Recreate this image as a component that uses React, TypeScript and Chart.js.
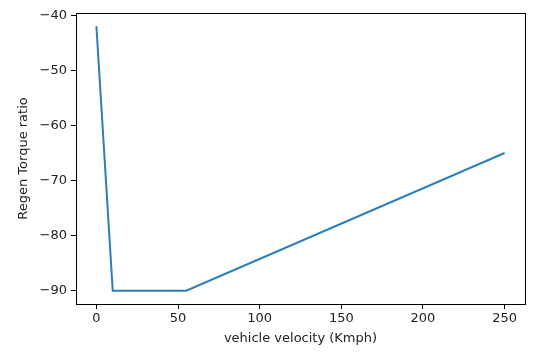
import React, { useEffect, useRef } from "react";
import { Chart, registerables } from "chart.js";

Chart.register(...registerables);

const velocity = [0, 10, 55, 250];
const torqueRatio = [-42, -90, -90, -65];
const xTicks = [0, 50, 100, 150, 200, 250];
const yTicks = [-90, -80, -70, -60, -50, -40];
const xLabel = "vehicle velocity (Kmph)";
const yLabel = "Regen Torque ratio";

const fmt = (v: number) => (v < 0 ? "\u2212" + Math.abs(v) : String(v));

const boxPlugin = {
  id: "boxPlugin",
  afterDraw(chart: any) {
    const { ctx, chartArea } = chart;
    ctx.save();
    ctx.strokeStyle = "#000";
    ctx.lineWidth = 1;
    ctx.strokeRect(
      Math.round(chartArea.left) + 0.5,
      Math.round(chartArea.top) + 0.5,
      Math.round(chartArea.right - chartArea.left),
      Math.round(chartArea.bottom - chartArea.top)
    );
    ctx.restore();
  },
};

export default function App() {
  const ref = useRef<HTMLCanvasElement>(null);
  useEffect(() => {
    document.body.style.margin = "0";
    const font = { family: "DejaVu Sans", size: 13 };
    const chart = new Chart(ref.current!, {
      type: "line",
      data: {
        datasets: [
          {
            data: velocity.map((x, i) => ({ x, y: torqueRatio[i] })),
            borderColor: "#2a7fba",
            borderWidth: 2,
            pointRadius: 0,
            fill: false,
            tension: 0,
          },
        ],
      },
      options: {
        responsive: false,
        animation: false,
        plugins: { legend: { display: false }, tooltip: { enabled: false } },
        layout: { padding: { left: 0, top: 13, right: 23, bottom: 0 } },
        scales: {
          x: {
            type: "linear",
            min: -12.5,
            max: 262.5,
            afterBuildTicks: (s: any) => {
              s.ticks = xTicks.map((v) => ({ value: v }));
            },
            afterFit: (s: any) => {
              s.height = 51;
            },
            grid: { drawOnChartArea: false, drawTicks: true, tickLength: 5, color: "#000" },
            border: { display: false },
            ticks: { font, color: "#222", padding: 2, maxRotation: 0, callback: (v: any) => fmt(Number(v)) },
            title: { display: true, text: xLabel, font, color: "#222", padding: { top: 0, bottom: 9 } },
          },
          y: {
            type: "linear",
            min: -92.4,
            max: -39.6,
            afterBuildTicks: (s: any) => {
              s.ticks = yTicks.map((v) => ({ value: v }));
            },
            afterFit: (s: any) => {
              s.width = 76;
            },
            grid: { drawOnChartArea: false, drawTicks: true, tickLength: 5, color: "#000" },
            border: { display: false },
            ticks: { font, color: "#222", padding: 4, callback: (v: any) => fmt(Number(v)) },
            title: { display: true, text: yLabel, font, color: "#222", padding: { top: 16, bottom: 0 } },
          },
        },
      },
      plugins: [boxPlugin],
    });
    return () => chart.destroy();
  }, []);
  return (
    <div style={{ position: "absolute", left: 0, top: 0, width: 548, height: 355, background: "#fff" }}>
      <canvas ref={ref} width={548} height={355} />
    </div>
  );
}
